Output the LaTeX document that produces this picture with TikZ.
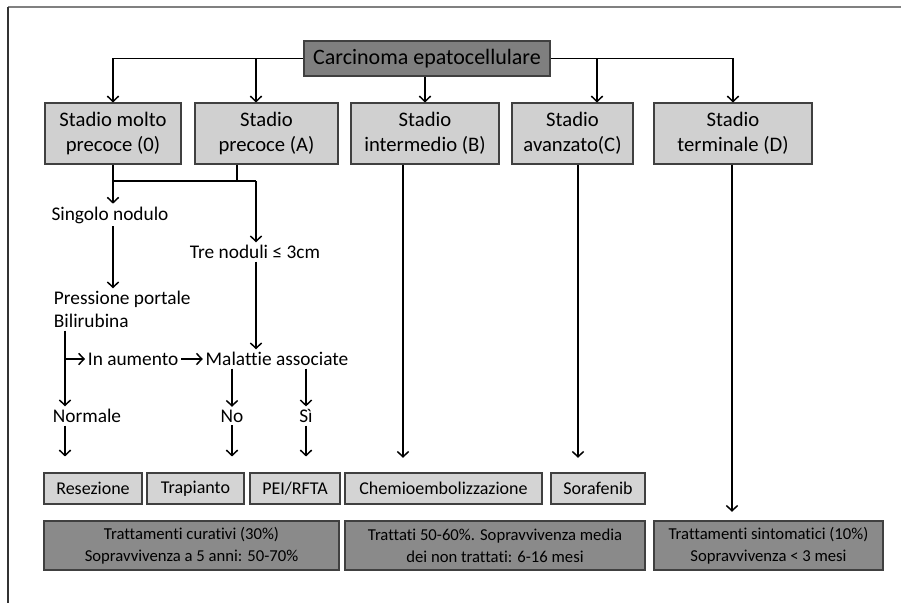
\documentclass[tikz,border=0pt]{standalone}
\usepackage{fontspec}
\setmainfont[Ligatures=NoCommon]{Carlito}
\usetikzlibrary{calc,arrows.meta}
\definecolor{rootgray}{HTML}{7F7F7F}
\definecolor{stagegray}{HTML}{D0D0D0}
\definecolor{cellgray}{HTML}{D4D4D4}
\definecolor{sumgray}{HTML}{8A8A8A}
\definecolor{framegray}{HTML}{808080}

\begin{document}
\begin{tikzpicture}[x=0.75pt,y=-0.75pt,
    line/.style={line width=1.1pt},
    link/.style={line width=1.1pt,-{Straight Barb[length=4pt,width=8.5pt]}},
    box/.style={draw=black!75,line width=0.8pt,align=center,inner sep=1pt},
    root/.style={box,fill=rootgray,font=\fontsize{16.5}{19}\selectfont,minimum width=184.5pt,minimum height=26.25pt},
    stage/.style={box,fill=stagegray,font=\fontsize{15.5}{19}\selectfont,minimum height=45.75pt},
    cell/.style={box,fill=cellgray,font=\fontsize{13.5}{16}\selectfont,minimum height=23.25pt},
    summary/.style={box,fill=sumgray,font=\fontsize{12.5}{16.5}\selectfont,minimum height=36.75pt},
    note/.style={font=\fontsize{14.5}{17.5}\selectfont,inner sep=2pt}]

    \useasboundingbox (0,0) rectangle (901,603);
    \draw[framegray,line width=1.5pt] (901,7) -- (8,7);
    \draw[black!80,line width=1pt] (8,7) -- (8,603);

    \node[root] (root) at (427,58.5) {Carcinoma epatocellulare};

    \node[stage,minimum width=102pt]    (s0) at (113,133.5)   {Stadio molto\\precoce (0)};
    \node[stage,minimum width=107.25pt] (sA) at (266.5,133.5) {Stadio\\precoce (A)};
    \node[stage,minimum width=111pt]    (sB) at (425,133.5)   {Stadio\\intermedio (B)};
    \node[stage,minimum width=90.75pt]  (sC) at (572.5,133.5) {Stadio\\avanzato(C)};
    \node[stage,minimum width=118.5pt]  (sD) at (733,133.5)   {Stadio\\terminale (D)};

    \coordinate (kA) at (256,59);
    \coordinate (kC) at (597,59);
    \draw[link] (root.west) -| (s0.north);
    \draw[link] (root.east) -| (sD.north);
    \draw[link] (kA) -- (kA |- sA.north);
    \draw[link] (kC) -- (kC |- sC.north);
    \draw[link] (root.south -| sB.north) -- (sB.north);

    \node[note] (sn) at (110,215) {Singolo nodulo};
    \node[note] (tn) at (255,252) {Tre noduli ≤ 3cm};
    \node[note,align=left,anchor=west,font=\fontsize{14.5}{17.25}\selectfont] (pp) at (51,309.5) {Pressione portale\\Bilirubina};
    \node[note,anchor=west] (ia) at (85,359) {In aumento};
    \node[note] (ma) at (277,359) {Malattie associate};
    \node[note] (nm) at (87,416) {Normale};
    \node[note] (no) at (232,416) {No};
    \node[note] (si) at (306,416) {Sì};

    \coordinate (j0) at (113,181);
    \coordinate (jA) at (237,181);
    \coordinate (j1) at (256,181);
    \coordinate (kN) at (65,359);
    \draw[line] (s0.south) -- (j0) -- (j1);
    \draw[line] (jA |- sA.south) -- (jA);
    \draw[link] (j0) -- (j0 |- sn.north);
    \draw[link] (j1) -- (j1 |- tn.north);
    \draw[link] (sn.south -| j0) -- (j0 |- pp.north);
    \draw[link] (tn.south -| j1) -- (j1 |- ma.north);
    \draw[link] (kN |- pp.south) -- (kN |- nm.north);
    \draw[link] (kN) -- (ia.west);
    \draw[link] (ia) -- (ma);
    \draw[link] (ma.south -| no) -- (no);
    \draw[link] (ma.south -| si) -- (si);

    \node[cell,minimum width=73.5pt]   (res) at (93,488.5)    {Resezione};
    \node[cell,minimum width=72.75pt]  (tra) at (195.5,488.5) {Trapianto};
    \node[cell,minimum width=67.5pt]   (pei) at (295,488.5)   {PEI/RFTA};
    \node[cell,minimum width=147.75pt] (che) at (443.5,488.5) {Chemioembolizzazione};
    \node[cell,minimum width=70.5pt]   (sor) at (598,488.5)   {Sorafenib};

    \node[summary,minimum width=221.25pt] (cur) at (191.5,545.5) {Trattamenti curativi (30\%)\\Sopravvivenza a 5 anni: 50-70\%};
    \node[summary,minimum width=225pt]    (med) at (495,545.5)   {Trattati 50-60\%. Sopravvivenza media\\dei non trattati: 6-16 mesi};
    \node[summary,minimum width=171.75pt] (sin) at (768.5,545.5) {Trattamenti sintomatici (10\%)\\Sopravvivenza < 3 mesi};

    \draw[link,shorten >=12pt] (nm.south -| kN) -- (kN |- res.north);
    \draw[link,shorten >=12pt] (no.south) -- (no.south |- tra.north);
    \draw[link,shorten >=12pt] (si.south) -- (si.south |- pei.north);

    \coordinate (kB) at (403,0);
    \coordinate (kS) at (578,0);
    \coordinate (kD) at (732,0);
    \draw[link,shorten >=11pt] (kB |- sB.south) -- (kB |- che.north);
    \draw[link,shorten >=11pt] (kS |- sC.south) -- (kS |- sor.north);
    \draw[link,shorten >=6.5pt] (kD |- sD.south) -- (kD |- sin.north);
\end{tikzpicture}
\end{document}
